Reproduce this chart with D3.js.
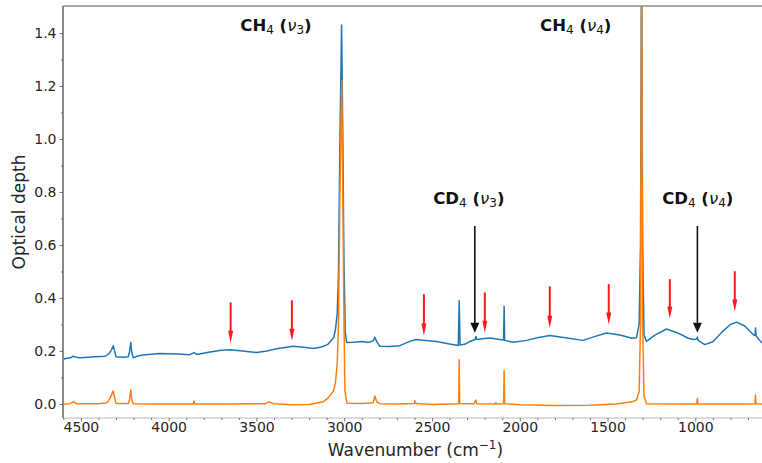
<!DOCTYPE html>
<html><head><meta charset="utf-8">
<script src="https://cdn.jsdelivr.net/npm/d3@7"></script>
<style>body{margin:0;background:#fff}svg{display:block}text{font-family:"DejaVu Sans",sans-serif}</style>
</head><body><svg id="c" width="762" height="463"></svg>
<script>
// wavenumber (cm-1) and optical depth
const blueWn = [4600,4560,4543,4520,4500,4420,4360,4340,4325,4316,4308,4300,4260,4230,4222,4216,4210,4202,4180,4150,4050,3950,3879,3856,3840,3765,3700,3650,3580,3499,3440,3385,3290,3230,3177,3130,3093,3060,3050,3040,3033,3025,3015,3008,3002,2994,2986,2950,2894,2865,2835,2825,2815,2797,2740,2683,2620,2590,2550,2474,2400,2350,2345,2340,2310,2284,2255,2250,2245,2200,2170,2113,2092,2089,2086,2038,1960,1900,1829,1740,1639,1570,1506,1430,1360,1335,1320,1312,1306,1300,1292,1278,1230,1164,1100,1040,1013,992,988,984,946,900,850,800,765,720,690,671,660,657,654,640,620];
const blueOD = [0.170,0.174,0.180,0.175,0.174,0.178,0.180,0.190,0.205,0.220,0.200,0.178,0.176,0.178,0.200,0.233,0.195,0.174,0.180,0.185,0.190,0.189,0.186,0.194,0.187,0.196,0.203,0.205,0.200,0.194,0.200,0.208,0.218,0.214,0.209,0.215,0.225,0.250,0.280,0.340,0.480,0.960,1.430,1.010,0.560,0.270,0.232,0.233,0.236,0.232,0.238,0.252,0.235,0.218,0.217,0.220,0.238,0.243,0.240,0.236,0.226,0.221,0.390,0.222,0.226,0.236,0.243,0.255,0.243,0.247,0.249,0.243,0.241,0.369,0.240,0.233,0.240,0.250,0.258,0.250,0.240,0.255,0.268,0.260,0.248,0.250,0.300,0.600,1.800,0.600,0.260,0.236,0.260,0.283,0.268,0.248,0.243,0.245,0.253,0.240,0.224,0.235,0.270,0.300,0.309,0.295,0.275,0.262,0.258,0.287,0.258,0.245,0.230];
const orangeWn = [4600,4560,4543,4525,4400,4350,4334,4316,4308,4300,4230,4222,4216,4210,4202,4100,3860,3856,3850,3700,3450,3430,3400,3300,3200,3120,3093,3060,3050,3040,3033,3025,3014,3008,3002,2996,2985,2900,2835,2825,2815,2797,2700,2600,2598,2590,2500,2400,2348,2345,2342,2260,2250,2245,2140,2136,2132,2092,2089,2086,2000,1800,1600,1450,1360,1335,1320,1312,1306,1300,1292,1278,1100,992,988,984,700,660,657,654,620];
const orangeOD = [0.000,0.001,0.009,0.001,0.001,0.005,0.021,0.049,0.025,0.002,0.002,0.020,0.053,0.015,0.001,0.000,0.000,0.011,0.000,0.000,0.001,0.008,0.001,-0.003,-0.002,0.008,0.022,0.050,0.080,0.150,0.290,0.760,1.220,0.800,0.350,0.050,0.003,0.002,0.005,0.030,0.008,0.001,0.000,0.002,0.012,0.002,-0.002,0.000,0.001,0.167,0.002,0.001,0.015,0.001,0.000,0.005,0.000,0.001,0.126,0.001,-0.003,-0.006,-0.005,0.000,0.008,0.015,0.047,0.300,1.700,0.300,0.030,0.001,0.000,0.000,0.021,0.000,0.000,0.001,0.034,0.001,0.000];
const xTicks = [4500,4000,3500,3000,2500,2000,1500,1000];
const yTicks = [0.0,0.2,0.4,0.6,0.8,1.0,1.2,1.4];
// arrows: wavenumber, start OD, end OD
const redArrowWn = [3647,3298,2546,2199,1829,1493,1145,775];
const redArrowTop = [0.383,0.391,0.414,0.421,0.444,0.452,0.471,0.501];
const redArrowTip = [0.231,0.239,0.258,0.269,0.288,0.300,0.323,0.349];
const blackArrowWn = [2256,988];
const blackArrowTop = [0.672,0.672];
const blackArrowTip = [0.269,0.269];
// labels: molecule, mode, centre wavenumber, OD baseline
const labelMol = ["CH","CH","CD","CD"];
const labelMode = ["3","4","3","4"];
const labelWn = [3389,1681,2290,986];
const labelOD = [1.408,1.408,0.755,0.755];

const svg = d3.select("#c");
const L=63,R=762,T=6,B=418;
const x = d3.scaleLinear().domain([4602,620]).range([L,R]);
const y = d3.scaleLinear().domain([-0.053,1.502]).range([B,T]);

svg.append("defs").append("clipPath").attr("id","clip").append("rect")
  .attr("x",L).attr("y",T).attr("width",R-L).attr("height",B-T);

const line = d3.line().x(d=>x(d[0])).y(d=>y(d[1]));
const g = svg.append("g").attr("clip-path","url(#clip)");
g.append("path").datum(blueWn.map((w,i)=>[w,blueOD[i]]))
  .attr("d",line).attr("fill","none").attr("stroke","#1f77b4").attr("stroke-width",1.5).attr("stroke-linejoin","round");
g.append("path").datum(orangeWn.map((w,i)=>[w,orangeOD[i]]))
  .attr("d",line).attr("fill","none").attr("stroke","#ff7f0e").attr("stroke-width",1.5).attr("stroke-linejoin","round");

// spines
svg.append("line").attr("x1",L).attr("x2",R).attr("y1",T).attr("y2",T).attr("stroke","#8a8a8a").attr("stroke-width",1.5);
svg.append("line").attr("x1",L).attr("x2",R).attr("y1",B).attr("y2",B).attr("stroke","#dcdcdc").attr("stroke-width",2);
svg.append("line").attr("x1",L).attr("x2",L).attr("y1",T).attr("y2",B).attr("stroke","#8a8a8a").attr("stroke-width",2);

// axes
const yAxis = svg.append("g").attr("transform",`translate(${L},0)`)
  .call(d3.axisLeft(y).tickValues(yTicks).tickFormat(d3.format(".1f")).tickSize(3.5).tickPadding(3));
const yMinor = svg.append("g").attr("transform",`translate(${L},0)`)
  .call(d3.axisLeft(y).tickValues(d3.range(0.1,1.5,0.2)).tickFormat("").tickSize(2));
const xAxis = svg.append("g").attr("transform",`translate(0,${B})`)
  .call(d3.axisBottom(x).tickValues(xTicks).tickFormat(d3.format("d")).tickSize(3.5).tickPadding(1));
const xMinor = svg.append("g").attr("transform",`translate(0,${B})`)
  .call(d3.axisBottom(x).tickValues(d3.range(4600,600,-100).filter(v=>v%500!==0)).tickFormat("").tickSize(2));
[yAxis,yMinor,xAxis,xMinor].forEach(a=>{a.select(".domain").remove();
  a.selectAll("line").attr("stroke","#555").attr("stroke-width",0.8);
  a.selectAll("text").attr("font-size",14).attr("fill","#262626").attr("font-family","DejaVu Sans");});

// axis titles
const xl = svg.append("text").attr("x",(L+R)/2+3).attr("y",456).attr("text-anchor","middle").attr("font-size",17).attr("fill","#262626");
xl.append("tspan").text("Wavenumber (cm");
xl.append("tspan").text("\u22121").attr("font-size",12).attr("dy",-7);
xl.append("tspan").text(")").attr("dy",7);
svg.append("text").attr("transform",`translate(25,${(T+B)/2}) rotate(-90)`).attr("text-anchor","middle")
  .attr("font-size",17).attr("fill","#262626").text("Optical depth");

// arrows
function arrow(wn,top,tip,color,w,hw,hl){
  const ax=x(wn), y0=y(top), y1=y(tip);
  svg.append("line").attr("x1",ax).attr("x2",ax).attr("y1",y0).attr("y2",y1-hl+1).attr("stroke",color).attr("stroke-width",w);
  svg.append("path").attr("d",`M${ax-hw},${y1-hl}L${ax+hw},${y1-hl}L${ax},${y1}Z`).attr("fill",color);
}
redArrowWn.forEach((w,i)=>arrow(w,redArrowTop[i],redArrowTip[i],"#ff1a1a",2,2.5,12));
blackArrowWn.forEach((w,i)=>arrow(w,blackArrowTop[i],blackArrowTip[i],"#111",1.6,4.5,10));

// labels
labelMol.forEach((m,i)=>{
  const t = svg.append("text").attr("x",x(labelWn[i])).attr("y",y(labelOD[i])).attr("text-anchor","middle")
    .attr("font-size",16.5).attr("fill","#111");
  t.append("tspan").text(m).attr("font-weight","bold");
  t.append("tspan").text("4").attr("font-size",12).attr("dy",3);
  t.append("tspan").text(" (").attr("font-weight","bold").attr("dy",-3);
  t.append("tspan").text("\u03bd").attr("font-style","italic");
  t.append("tspan").text(labelMode[i]).attr("font-size",12).attr("dy",3);
  t.append("tspan").text(")").attr("font-weight","bold").attr("dy",-3);
});
</script></body></html>
